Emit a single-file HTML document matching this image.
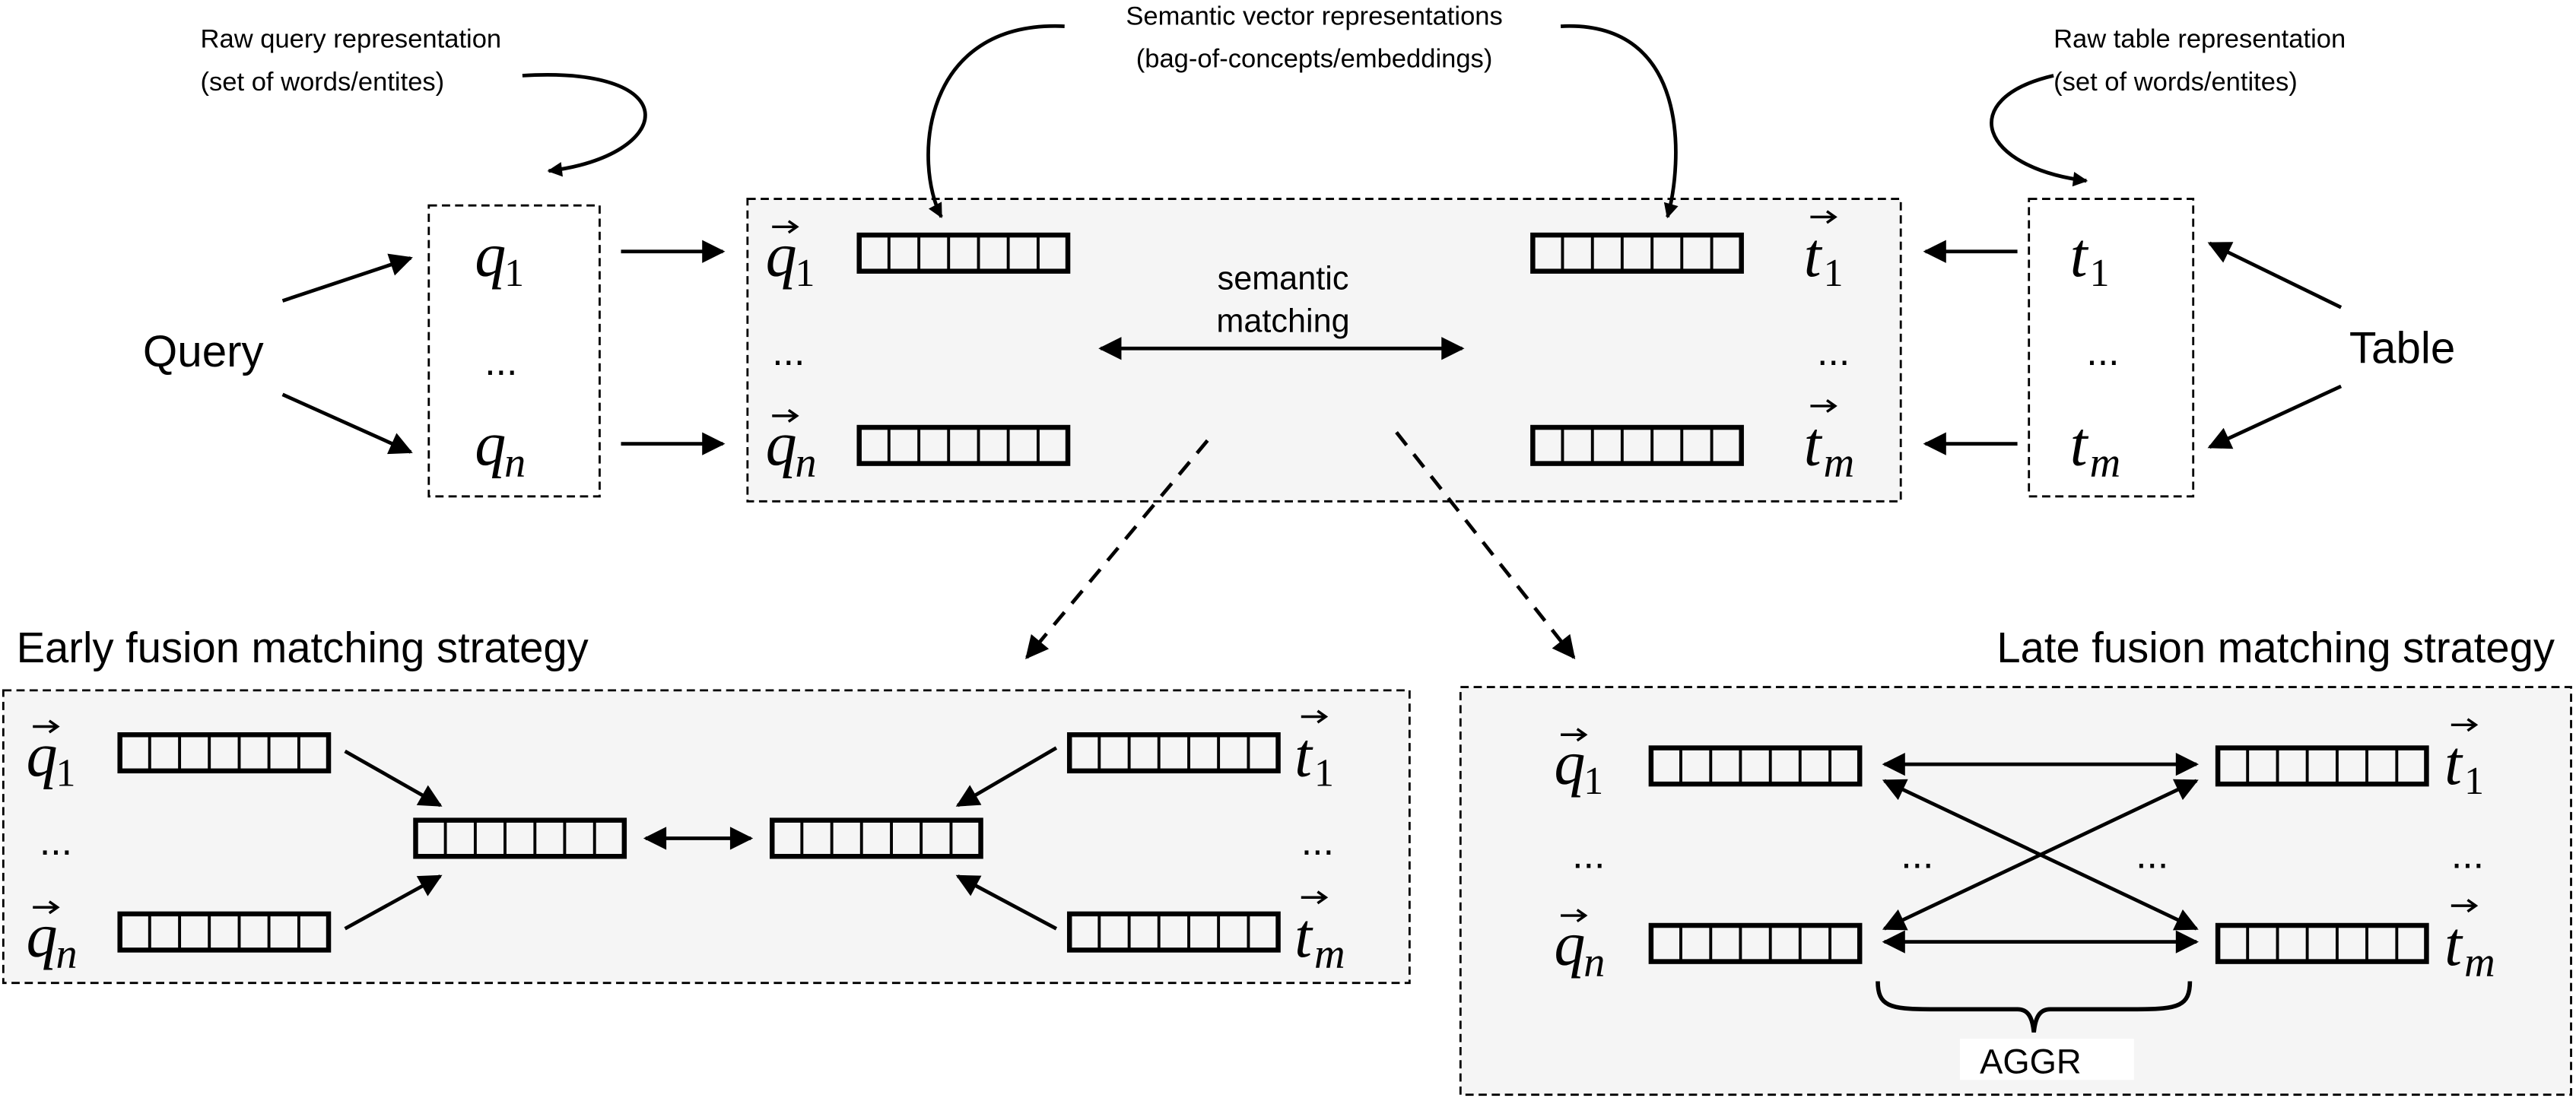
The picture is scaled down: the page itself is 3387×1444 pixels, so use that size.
<!DOCTYPE html>
<html><head><meta charset="utf-8"><style>
html,body{margin:0;padding:0;background:#fff;}
svg{display:block;}
.s{font-family:"Liberation Sans",sans-serif;}
.m{font-family:"Liberation Serif",serif;font-style:italic;}
.r{font-family:"Liberation Serif",serif;}
</style></head><body>
<svg width="3387" height="1444" viewBox="0 0 1568 668" preserveAspectRatio="none" xmlns="http://www.w3.org/2000/svg">
<defs>
<marker id="a" viewBox="0 0 10 10" refX="9" refY="5" markerWidth="11" markerHeight="9" orient="auto-start-reverse" markerUnits="userSpaceOnUse">
<path d="M0,0 L10,5 L0,10 z" fill="#000"/></marker>
<marker id="b" viewBox="0 0 10 10" refX="9" refY="5" markerWidth="16" markerHeight="14" orient="auto-start-reverse" markerUnits="userSpaceOnUse">
<path d="M0,0 L10,5 L0,10 z" fill="#000"/></marker>
<g id="v"><rect x="0" y="0" width="127" height="22" fill="none" stroke="#000" stroke-width="3"/>
<path d="M18.1 0V22M36.3 0V22M54.4 0V22M72.6 0V22M90.7 0V22M108.9 0V22" stroke="#000" stroke-width="1.8"/></g>
<g id="sa"><path d="M0 0H14" stroke="#000" stroke-width="1.6"/><path d="M10 -3.5L15 0L10 3.5" fill="none" stroke="#000" stroke-width="1.6"/></g>
</defs>
<g class="s" font-size="16" fill="#000">
<text x="122" y="29">Raw query representation</text>
<text x="122" y="55">(set of words/entites)</text>
<text x="800" y="15" text-anchor="middle">Semantic vector representations</text>
<text x="800" y="41" text-anchor="middle">(bag-of-concepts/embeddings)</text>
<text x="1250" y="29">Raw table representation</text>
<text x="1250" y="55">(set of words/entites)</text>
</g>
<rect x="455" y="121" width="702" height="184" fill="#f5f5f5" stroke="#000" stroke-width="1.3" stroke-dasharray="5,3"/>
<rect x="261" y="125" width="104" height="177" fill="#fff" stroke="#000" stroke-width="1.3" stroke-dasharray="5,3"/>
<rect x="1235" y="121" width="100" height="181" fill="#fff" stroke="#000" stroke-width="1.3" stroke-dasharray="5,3"/>
<rect x="2" y="420" width="856" height="178" fill="#f5f5f5" stroke="#000" stroke-width="1.3" stroke-dasharray="5,3"/>
<rect x="889" y="418" width="676" height="248" fill="#f5f5f5" stroke="#000" stroke-width="1.3" stroke-dasharray="5,3"/>

<g fill="none" stroke="#000" stroke-width="2.2">
<path d="M318 46 C420 40 410 95 334 104" marker-end="url(#a)"/>
<path d="M648 16 C560 12 556 100 573 132" marker-end="url(#a)"/>
<path d="M950 16 C1030 12 1024 100 1015 132" marker-end="url(#a)"/>
<path d="M1250 46 C1190 60 1205 102 1270 110" marker-end="url(#a)"/>
</g>

<text class="s" x="87" y="223" font-size="27">Query</text>
<text class="s" x="1430" y="221" font-size="27">Table</text>
<text class="s" x="781" y="176" font-size="20" text-anchor="middle">semantic</text>
<text class="s" x="781" y="202" font-size="20" text-anchor="middle">matching</text>
<text class="s" x="10" y="403" font-size="26">Early fusion matching strategy</text>
<text class="s" x="1555" y="403" font-size="26" text-anchor="end">Late fusion matching strategy</text>

<g fill="#000">
<text class="m" x="289" y="168" font-size="38">q</text><text class="r" x="307" y="174" font-size="24">1</text>
<text class="s" x="295" y="228" font-size="24">...</text>
<text class="m" x="289" y="283" font-size="38">q</text><text class="m" x="307" y="290" font-size="26">n</text>
<text class="m" x="1260" y="168" font-size="38">t</text><text class="r" x="1272" y="174" font-size="24">1</text>
<text class="s" x="1270" y="222" font-size="24">...</text>
<text class="m" x="1260" y="283" font-size="38">t</text><text class="m" x="1272" y="290" font-size="26">m</text>
</g>

<g stroke="#000" stroke-width="2.2" fill="none">
<path d="M172 183 L250 157" marker-end="url(#b)"/>
<path d="M172 240 L250 275" marker-end="url(#b)"/>
<path d="M378 153 L440 153" marker-end="url(#b)"/>
<path d="M378 270 L440 270" marker-end="url(#b)"/>
<path d="M1228 153 L1172 153" marker-end="url(#b)"/>
<path d="M1228 270 L1172 270" marker-end="url(#b)"/>
<path d="M1425 187 L1345 148" marker-end="url(#b)"/>
<path d="M1425 235 L1345 272" marker-end="url(#b)"/>
<path d="M670 212 L890 212" marker-start="url(#b)" marker-end="url(#b)"/>
<path d="M735 268 L625 400" stroke-dasharray="10,7" marker-end="url(#b)"/>
<path d="M850 263 L958 400" stroke-dasharray="10,7" marker-end="url(#b)"/>
<path d="M210 457 L268 490" marker-end="url(#b)"/>
<path d="M210 565 L268 533" marker-end="url(#b)"/>
<path d="M643 455 L583 490" marker-end="url(#b)"/>
<path d="M643 565 L583 533" marker-end="url(#b)"/>
<path d="M393 510 L457 510" marker-start="url(#b)" marker-end="url(#b)"/>
<path d="M1147 465 L1337 465" marker-start="url(#b)" marker-end="url(#b)"/>
<path d="M1147 573 L1337 573" marker-start="url(#b)" marker-end="url(#b)"/>
<path d="M1147 475 L1337 565" marker-start="url(#b)" marker-end="url(#b)"/>
<path d="M1147 565 L1337 475" marker-start="url(#b)" marker-end="url(#b)"/>
<path d="M1143 597 C1143 612 1150 614 1175 614 L1228 614 C1234 614 1237 618 1238 628 C1239 618 1242 614 1248 614 L1301 614 C1326 614 1333 612 1333 597" stroke-width="2.6"/>
</g>
<rect x="1193" y="632" width="106" height="25" fill="#fff"/>
<text class="s" x="1236" y="653" font-size="21" text-anchor="middle">AGGR</text>

<use href="#v" x="523" y="143"/><use href="#v" x="523" y="260"/>
<use href="#v" x="933" y="143"/><use href="#v" x="933" y="260"/>
<use href="#v" x="73" y="447"/><use href="#v" x="73" y="556"/>
<use href="#v" x="253" y="499"/><use href="#v" x="470" y="499"/>
<use href="#v" x="651" y="447"/><use href="#v" x="651" y="556"/>
<use href="#v" x="1005" y="455"/><use href="#v" x="1005" y="563"/>
<use href="#v" x="1350" y="455"/><use href="#v" x="1350" y="563"/>

<g fill="#000">
<text class="m" x="466" y="168" font-size="38">q</text><text class="r" x="484" y="174" font-size="24">1</text><use href="#sa" x="470" y="138"/>
<text class="s" x="470" y="222" font-size="24">...</text>
<text class="m" x="466" y="283" font-size="38">q</text><text class="m" x="484" y="290" font-size="26">n</text><use href="#sa" x="470" y="253"/>
<text class="m" x="1098" y="168" font-size="38">t</text><text class="r" x="1110" y="174" font-size="24">1</text><use href="#sa" x="1102" y="132"/>
<text class="s" x="1106" y="222" font-size="24">...</text>
<text class="m" x="1098" y="283" font-size="38">t</text><text class="m" x="1110" y="290" font-size="26">m</text><use href="#sa" x="1102" y="247"/>

<text class="m" x="16" y="472" font-size="38">q</text><text class="r" x="34" y="478" font-size="24">1</text><use href="#sa" x="20" y="442"/>
<text class="s" x="24" y="520" font-size="24">...</text>
<text class="m" x="16" y="582" font-size="38">q</text><text class="m" x="34" y="589" font-size="26">n</text><use href="#sa" x="20" y="552"/>
<text class="m" x="788" y="472" font-size="38">t</text><text class="r" x="800" y="478" font-size="24">1</text><use href="#sa" x="792" y="436"/>
<text class="s" x="792" y="520" font-size="24">...</text>
<text class="m" x="788" y="582" font-size="38">t</text><text class="m" x="800" y="589" font-size="26">m</text><use href="#sa" x="792" y="546"/>

<text class="m" x="946" y="477" font-size="38">q</text><text class="r" x="964" y="483" font-size="24">1</text><use href="#sa" x="950" y="447"/>
<text class="s" x="957" y="528" font-size="24">...</text>
<text class="m" x="946" y="587" font-size="38">q</text><text class="m" x="964" y="594" font-size="26">n</text><use href="#sa" x="950" y="557"/>
<text class="s" x="1157" y="528" font-size="24">...</text>
<text class="s" x="1300" y="528" font-size="24">...</text>
<text class="m" x="1488" y="477" font-size="38">t</text><text class="r" x="1500" y="483" font-size="24">1</text><use href="#sa" x="1492" y="441"/>
<text class="s" x="1492" y="528" font-size="24">...</text>
<text class="m" x="1488" y="587" font-size="38">t</text><text class="m" x="1500" y="594" font-size="26">m</text><use href="#sa" x="1492" y="551"/>
</g>
</svg>
</body></html>
